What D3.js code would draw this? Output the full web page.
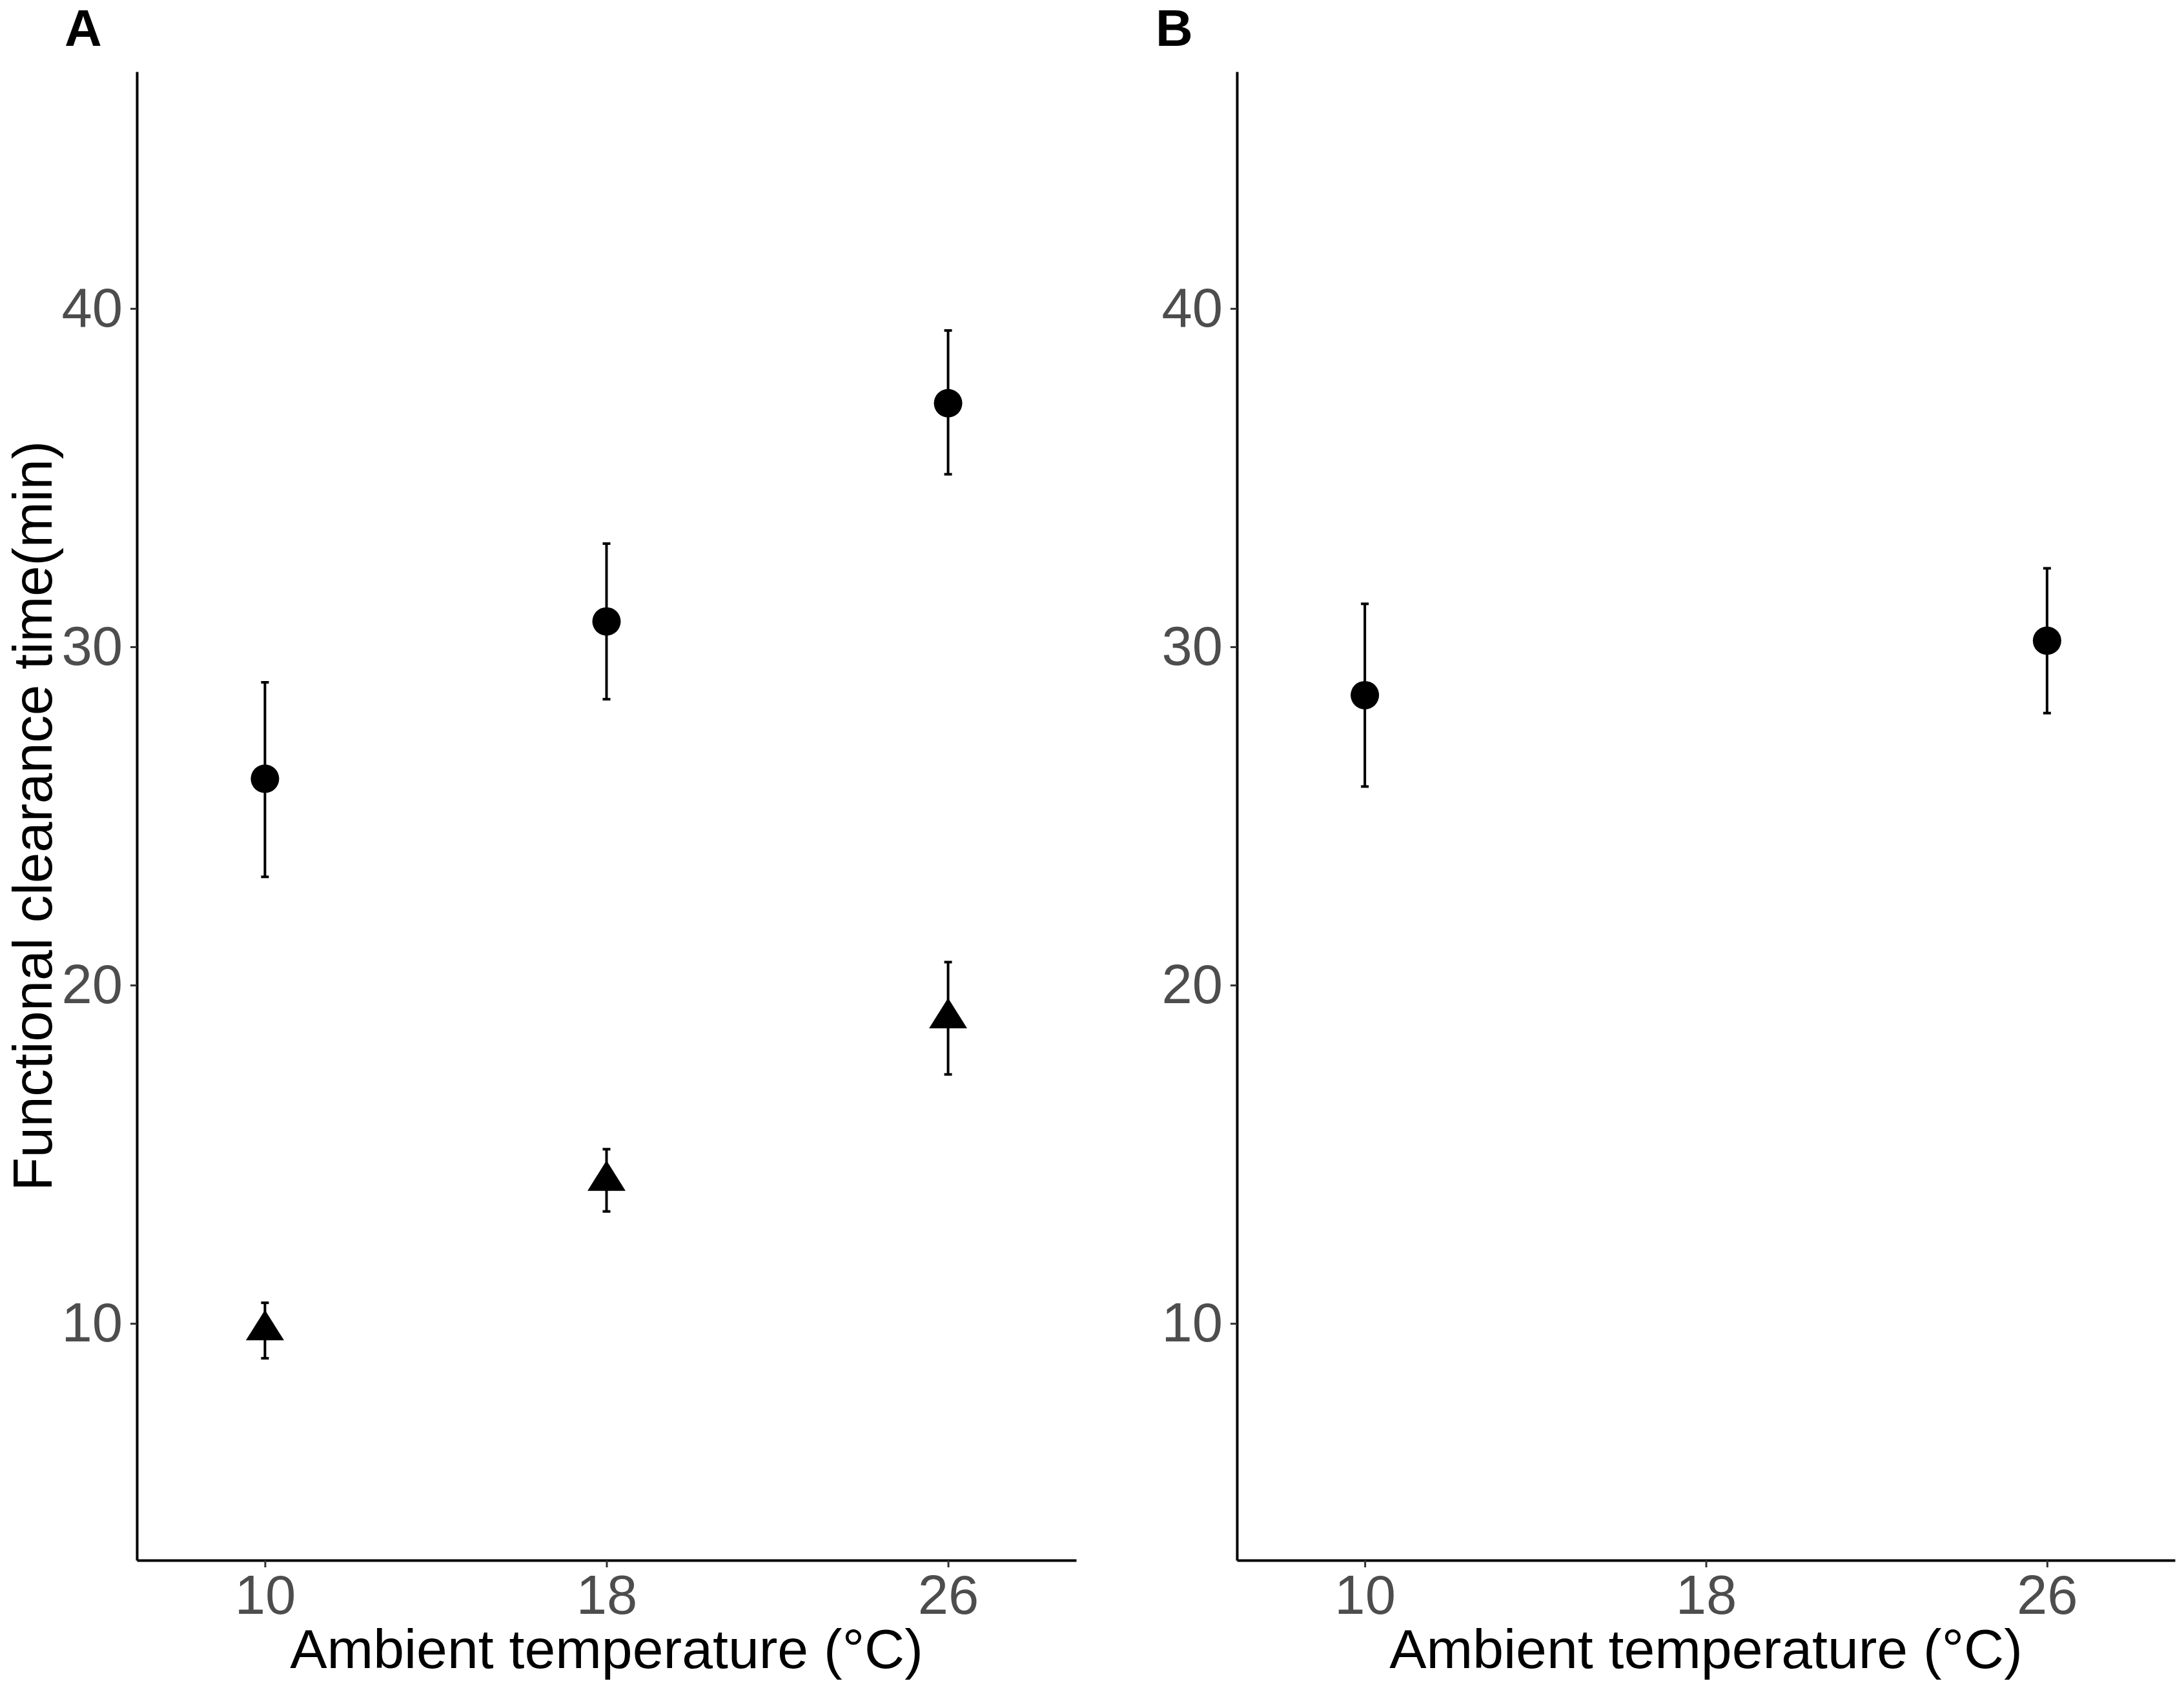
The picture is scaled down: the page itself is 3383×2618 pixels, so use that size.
<!DOCTYPE html>
<html>
<head>
<meta charset="utf-8">
<script src="https://cdn.jsdelivr.net/npm/d3@7"></script>
<style>
  html, body { margin: 0; padding: 0; background: #fff; }
  svg text { font-family: "Liberation Sans", Arial, Helvetica, sans-serif; }
</style>
</head>
<body>
<svg id="chart" width="3383" height="2618"></svg>
<script>
// temperatures (x categories)
const temps = ["10", "18", "26"];
const yTicks = [10, 20, 30, 40];

// panel A, circles
const aCircleMean = [26.1, 30.75, 37.2];
const aCircleLo   = [23.2, 28.45, 35.1];
const aCircleHi   = [28.95, 33.05, 39.35];

// panel A, triangles
const aTriMean = [9.8, 14.22, 19.02];
const aTriLo   = [8.97, 13.31, 17.36];
const aTriHi   = [10.61, 15.15, 20.68];

// panel B, circles (no 18 °C group)
const bTemps = ["10", "26"];
const bCircleMean = [28.57, 30.18];
const bCircleLo   = [25.87, 28.04];
const bCircleHi   = [31.27, 32.32];

const svg = d3.select("#chart");
svg.append("rect").attr("width", 3383).attr("height", 2618).attr("fill", "#fff");

const plotTop = 111, plotBottom = 2417;
const y = d3.scaleLinear().domain([3, 47]).range([plotBottom, plotTop]);

// triangle like R pch 17, centred on its centroid
const triangle = {
  draw(ctx, size) {
    const hw = 29.5, h = 47;
    ctx.moveTo(0, -h * 2 / 3);
    ctx.lineTo(hw, h / 3);
    ctx.lineTo(-hw, h / 3);
    ctx.closePath();
  }
};

function rows(cats, mean, lo, hi) {
  return cats.map((t, i) => ({ t, mean: mean[i], lo: lo[i], hi: hi[i] }));
}

function drawPanel(left, right, label, labelX, series, showYTitle) {
  const x = d3.scalePoint().domain(temps).range([left, right]).padding(0.375);
  const g = svg.append("g");

  const xAxis = g.append("g")
    .attr("transform", `translate(0,${plotBottom})`)
    .call(d3.axisBottom(x).tickSize(11).tickSizeOuter(0).tickPadding(12));
  const yAxis = g.append("g")
    .attr("transform", `translate(${left},0)`)
    .call(d3.axisLeft(y).tickValues(yTicks).tickSize(10).tickSizeOuter(0).tickPadding(12));

  [xAxis, yAxis].forEach(a => {
    a.select(".domain").attr("stroke", "#000").attr("stroke-width", 4);
    a.selectAll(".tick line").attr("stroke", "#333").attr("stroke-width", 3);
    a.selectAll(".tick text")
      .attr("fill", "#4d4d4d")
      .style("font-size", "85px")
      .style("font-family", "'Liberation Sans', Arial, sans-serif");
  });

  g.append("text")
    .attr("x", (left + right) / 2)
    .attr("y", 2584)
    .attr("text-anchor", "middle")
    .style("font-size", "86px")
    .attr("fill", "#000")
    .text("Ambient temperature (°C)");

  if (showYTitle) {
    g.append("text")
      .attr("transform", `translate(80,${(plotTop + plotBottom) / 2}) rotate(-90)`)
      .attr("text-anchor", "middle")
      .style("font-size", "85px")
      .attr("fill", "#000")
      .text("Functional clearance time(min)");
  }

  g.append("text")
    .attr("x", labelX)
    .attr("y", 71)
    .style("font-size", "80px")
    .style("font-weight", "bold")
    .attr("fill", "#000")
    .text(label);

  series.forEach(s => {
    const bars = g.append("g").selectAll("g")
      .data(s.data)
      .enter()
      .append("g")
      .attr("stroke", "#000")
      .attr("stroke-width", 4);
    bars.append("line")
      .attr("x1", d => x(d.t)).attr("x2", d => x(d.t))
      .attr("y1", d => y(d.lo)).attr("y2", d => y(d.hi));
    bars.append("line")
      .attr("x1", d => x(d.t) - 6).attr("x2", d => x(d.t) + 6)
      .attr("y1", d => y(d.hi)).attr("y2", d => y(d.hi));
    bars.append("line")
      .attr("x1", d => x(d.t) - 6).attr("x2", d => x(d.t) + 6)
      .attr("y1", d => y(d.lo)).attr("y2", d => y(d.lo));

    if (s.shape === "circle") {
      g.append("g").selectAll("circle")
        .data(s.data)
        .enter()
        .append("circle")
        .attr("cx", d => x(d.t))
        .attr("cy", d => y(d.mean))
        .attr("r", 22)
        .attr("fill", "#000");
    } else {
      g.append("g").selectAll("path")
        .data(s.data)
        .enter()
        .append("path")
        .attr("d", d3.symbol().type(triangle))
        .attr("transform", d => `translate(${x(d.t)},${y(d.mean)})`)
        .attr("fill", "#000");
    }
  });
}

drawPanel(212, 1667, "A", 100, [
  { shape: "circle", data: rows(temps, aCircleMean, aCircleLo, aCircleHi) },
  { shape: "triangle", data: rows(temps, aTriMean, aTriLo, aTriHi) }
], true);

drawPanel(1916, 3369, "B", 1790, [
  { shape: "circle", data: rows(bTemps, bCircleMean, bCircleLo, bCircleHi) }
], false);
</script>
</body>
</html>
